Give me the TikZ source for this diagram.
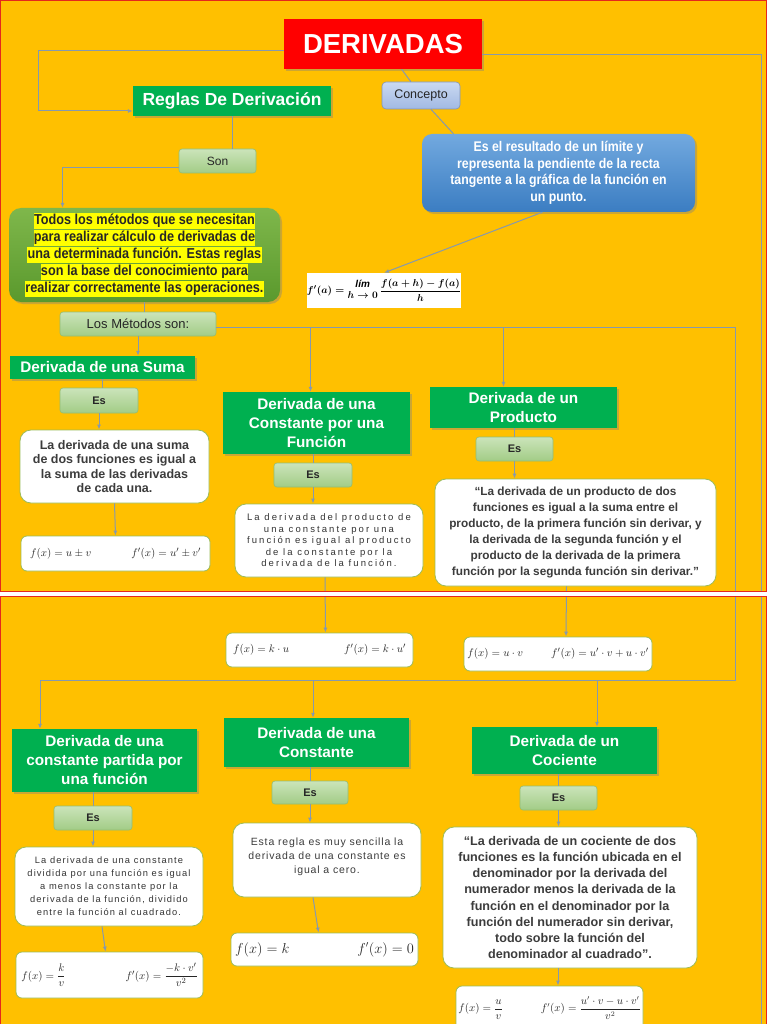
\documentclass[tikz,border=0pt]{standalone}
\usepackage{amsmath}
\usepackage{fontspec}
\setmainfont{Liberation Sans}
\newfontfamily\narrowfont[FakeStretch=0.88]{Liberation Sans}
\usetikzlibrary{arrows.meta,shadows}

\definecolor{bgO}{HTML}{FFC000}
\definecolor{frameR}{HTML}{E4281C}
\definecolor{titleR}{HTML}{FF0000}
\definecolor{headG}{HTML}{00B050}
\definecolor{esTop}{HTML}{CBE4BA}
\definecolor{esBot}{HTML}{A2CC86}
\definecolor{esLine}{HTML}{93BE74}
\definecolor{txtLine}{HTML}{9BBB59}
\definecolor{txtGray}{HTML}{3C3C3C}
\definecolor{lineC}{HTML}{8699AE}
\definecolor{todoTop}{HTML}{7FB74B}
\definecolor{todoBot}{HTML}{5A992D}
\definecolor{blueTop}{HTML}{72A9DF}
\definecolor{blueBot}{HTML}{3B7DC2}
\definecolor{conTop}{HTML}{CAD9F2}
\definecolor{conBot}{HTML}{A1B9E2}
\definecolor{hiY}{HTML}{FFFF00}

\setlength{\fboxsep}{0.4pt}
\newcommand{\hili}[1]{\colorbox{hiY}{\strut #1}}

\tikzset{
  conn/.style={draw=lineC, line width=1pt},
  frame/.style={draw=frameR, line width=1.2pt},
  shade/.style={drop shadow={shadow xshift=2pt, shadow yshift=-2pt, opacity=0.4}},
  titlebox/.style={fill=titleR, text=white, shade, inner sep=0pt,
    font=\bfseries\fontsize{27.5}{29}\selectfont},
  head/.style={fill=headG, text=white, shade, align=center, inner sep=0pt,
    font=\bfseries\fontsize{15.3}{19}\selectfont},
  esbox/.style={rounded corners=3pt, top color=esTop, bottom color=esBot, draw=esLine,
    line width=0.6pt, text=black!85, inner sep=0pt, font=\bfseries\fontsize{11}{13}\selectfont},
  conbox/.style={rounded corners=4pt, top color=conTop, bottom color=conBot, draw=conBot!80!black,
    line width=0.6pt, text=black!85, inner sep=0pt, font=\fontsize{12.5}{14}\selectfont},
  todobox/.style={rounded corners=12pt, top color=todoTop, bottom color=todoBot, shade,
    align=center, inner sep=0pt, text=black!85,
    font=\narrowfont\bfseries\fontsize{14.4}{15.2}\selectfont},
  bluebox/.style={rounded corners=10pt, top color=blueTop, bottom color=blueBot, shade,
    align=center, inner sep=0pt, text=white,
    font=\narrowfont\bfseries\fontsize{14}{16.5}\selectfont},
  txtbox/.style={rounded corners=11pt, fill=white, draw=txtLine, line width=0.8pt,
    align=center, text=txtGray, inner sep=0pt},
  fbox/.style={rounded corners=6pt, fill=white, draw=txtLine, line width=0.8pt,
    inner sep=0pt, text=black!85, font=\fontsize{11}{13}\selectfont},
}

\begin{document}
\begin{tikzpicture}[x=1pt, y=-1pt, >={Latex[length=5pt,width=4pt]}]
\useasboundingbox (0,0) rectangle (768,1024);
\clip (0,0) rectangle (768,1024);

% the two pages
\fill[white] (0,0) rectangle (768,1024);
\fill[bgO] (0,0) rectangle (767,592);
\fill[bgO] (0,596.5) rectangle (767,1030);

% top part
\node[titlebox, minimum width=198pt, minimum height=50pt] (deriv) at (383,44) {DERIVADAS};
\node[head, minimum width=198pt, minimum height=30pt, font=\bfseries\fontsize{17.5}{20}\selectfont] (reglas) at (232,101) {Reglas De Derivación};
\node[conbox, minimum width=78pt, minimum height=27pt] (concepto) at (421,95.5) {Concepto};
\node[esbox, minimum width=77pt, minimum height=24pt, font=\fontsize{12}{14}\selectfont] (son) at (217.5,161) {Son};
\node[todobox, minimum width=271pt, minimum height=94pt] (todos) at (144.5,255)
  {\hili{Todos los métodos que se necesitan}\\\hili{para realizar cálculo de derivadas de}\\\hili{una determinada función. Estas reglas}\\\hili{son la base del conocimiento para}\\\hili{realizar correctamente las operaciones.}};
\node[bluebox, minimum width=273pt, minimum height=78pt] (resultado) at (558.5,173)
  {Es el resultado de un límite y\\representa la pendiente de la recta\\tangente a la gráfica de la función en\\un punto.};
\node[fill=white, minimum width=152pt, minimum height=35pt, inner sep=0pt, font=\fontsize{10}{11}\selectfont\boldmath] (limite) at (384,290.5)
  {$\displaystyle f'(a)=\begin{array}{@{}c@{}}\mbox{\bfseries\itshape lím}\\ h\to 0\end{array}\,\frac{f(a+h)-f(a)}{h}$};
\node[esbox, minimum width=156pt, minimum height=24pt, font=\fontsize{13}{15}\selectfont] (metodos) at (138,324) {Los Métodos son:};

% derivada de una suma
\node[head, minimum width=185pt, minimum height=23pt] (suma) at (102.5,367.5) {Derivada de una Suma};
\node[esbox, minimum width=78pt, minimum height=25pt] (es1) at (99,400.5) {Es};
\node[txtbox, minimum width=189pt, minimum height=73pt, font=\bfseries\fontsize{12.5}{14.5}\selectfont] (sumatxt) at (114.5,466.5)
  {La derivada de una suma\\de dos funciones es igual a\\la suma de las derivadas\\de cada una.};
\node[fbox, minimum width=189pt, minimum height=35pt] (sumaf) at (115.5,553.5) {$f(x)=u\pm v$\hspace{40pt}$f'(x)=u'\pm v'$};

% constante por una funcion
\node[head, minimum width=187pt, minimum height=62pt] (cfun) at (316.5,423) {Derivada de una\\Constante por una\\Función};
\node[esbox, minimum width=78pt, minimum height=24pt] (es2) at (313,475) {Es};
\node[txtbox, minimum width=188pt, minimum height=73pt, text=black!80, font=\fontsize{9.5}{11.5}\selectfont\addfontfeature{LetterSpace=22}] (cfuntxt) at (329,540.5)
  {La derivada del producto de\\una constante por una\\función es igual al producto\\de la constante por la\\derivada de la función.};
\node[fbox, minimum width=187pt, minimum height=34pt] (cfunf) at (319.5,650) {$f(x)=k\cdot u$\hspace{55pt}$f'(x)=k\cdot u'$};

% producto
\node[head, minimum width=187pt, minimum height=41pt] (prod) at (523.5,407.5) {Derivada de un\\Producto};
\node[esbox, minimum width=77pt, minimum height=24pt] (es3) at (514.5,449) {Es};
\node[txtbox, minimum width=281pt, minimum height=107pt, font=\bfseries\fontsize{11.8}{16}\selectfont] (prodtxt) at (575.5,532.5)
  {“La derivada de un producto de dos\\funciones es igual a la suma entre el\\producto, de la primera función sin derivar, y\\la derivada de la segunda función y el\\producto de la derivada de la primera\\función por la segunda función sin derivar.”};
\node[fbox, minimum width=188pt, minimum height=34pt, font=\fontsize{11}{13}\selectfont] (prodf) at (558,654) {$f(x)=u\cdot v$\hspace{28pt}$f'(x)=u'\cdot v+u\cdot v'$};

% constante partida por una funcion
\node[head, minimum width=185pt, minimum height=63pt] (partida) at (104.5,760.5) {Derivada de una\\constante partida por\\una función};
\node[esbox, minimum width=78pt, minimum height=24pt] (es4) at (93,818) {Es};
\node[txtbox, minimum width=188pt, minimum height=79pt, text=black!80, font=\fontsize{9.3}{13}\selectfont\addfontfeature{LetterSpace=12}] (partidatxt) at (109,886.5)
  {La derivada de una constante\\dividida por una función es igual\\a menos la constante por la\\derivada de la función, dividido\\entre la función al cuadrado.};
\node[fbox, minimum width=187pt, minimum height=46pt] (partidaf) at (109.5,975) {$f(x)=\dfrac{k}{v}$\hspace{60pt}$f'(x)=\dfrac{-k\cdot v'}{v^2}$};

% constante
\node[head, minimum width=185pt, minimum height=49pt] (cte) at (316.5,742.5) {Derivada de una\\Constante};
\node[esbox, minimum width=76pt, minimum height=23pt] (es5) at (310,792.5) {Es};
\node[txtbox, minimum width=188pt, minimum height=74pt, font=\fontsize{10.5}{14}\selectfont\addfontfeature{LetterSpace=8}] (ctetxt) at (327,860)
  {Esta regla es muy sencilla la\\derivada de una constante es\\igual a cero.\\[-6pt]\mbox{}};
\node[fbox, minimum width=187pt, minimum height=33pt, font=\fontsize{13.5}{16}\selectfont] (ctef) at (324.5,949.5) {$f(x)=k$\hspace{68pt}$f'(x)=0$};

% cociente
\node[head, minimum width=185pt, minimum height=47pt] (coc) at (564.5,750.5) {Derivada de un\\Cociente};
\node[esbox, minimum width=77pt, minimum height=24pt] (es6) at (558.5,798) {Es};
\node[txtbox, minimum width=254pt, minimum height=141pt, font=\bfseries\fontsize{12.6}{16.2}\selectfont] (coctxt) at (570,897.5)
  {“La derivada de un cociente de dos\\funciones es la función ubicada en el\\denominador por la derivada del\\numerador menos la derivada de la\\función en el denominador por la\\función del numerador sin derivar,\\todo sobre la función del\\denominador al cuadrado”.};
\node[fbox, minimum width=187pt, minimum height=44pt, font=\fontsize{10.5}{12}\selectfont] (cocf) at (549.5,1008) {$f(x)=\dfrac{u}{v}$\hspace{38pt}$f'(x)=\dfrac{u'\cdot v-u\cdot v'}{v^2}$};

% connectors
\coordinate (lk) at (38,111);
\coordinate (rbot) at (761,1030);
\coordinate (busR) at (735,680);
\coordinate (busL) at (40,680);
\coordinate (cteX) at (313,680);
\coordinate (cocX) at (597,680);

\draw[conn,->] ([yshift=-7pt]deriv.west) -| (lk) -- ([yshift=-10pt]reglas.west);
\draw[conn] ([yshift=-11pt]deriv.east) -| (rbot);
\draw[conn] (deriv) -- (concepto);
\draw[conn] ([xshift=10pt]concepto.south) -- ([xshift=-105pt]resultado.north);
\draw[conn,->] ([xshift=-16pt]resultado.south) -- (limite.north);
\draw[conn] (reglas.south) -- (reglas.south |- son.north);
\draw[conn,->] ([yshift=-7pt]son.west) -| ([xshift=-82pt]todos.north);
\draw[conn] (todos.south) -- (todos.south |- metodos.north);
\draw[conn,->] (metodos.south) -- (metodos.south |- suma.north);
\draw[conn,->] ([yshift=-3pt]metodos.east) -| ([xshift=-6pt]cfun.north);
\draw[conn,->] ([yshift=-3pt]metodos.east) -| ([xshift=-20pt]prod.north);
\draw[conn] ([yshift=-3pt]metodos.east) -| (busR) -- (busL);
\draw[conn,->] (busL) -- (busL |- partida.north);
\draw[conn,->] (cteX) -- (cteX |- cte.north);
\draw[conn,->] (cocX) -- (cocX |- coc.north);

\draw[conn] (suma.south) -- (suma.south |- es1.north);
\draw[conn,->] (es1.south) -- (es1.south |- sumatxt.north);
\draw[conn,->] (sumatxt.south) -- (sumaf.north);
\draw[conn] (es2.north |- cfun.south) -- (es2.north);
\draw[conn,->] (es2.south) -- (es2.south |- cfuntxt.north);
\draw[conn,->] ([xshift=-4pt]cfuntxt.south) -- ([xshift=6pt]cfunf.north);
\draw[conn] (es3.north |- prod.south) -- (es3.north);
\draw[conn,->] (es3.south) -- (es3.south |- prodtxt.north);
\draw[conn,->] ([xshift=-9pt]prodtxt.south) -- ([xshift=8pt]prodf.north);
\draw[conn] (es4.north |- partida.south) -- (es4.north);
\draw[conn,->] (es4.south) -- (es4.south |- partidatxt.north);
\draw[conn,->] ([xshift=-7pt]partidatxt.south) -- ([xshift=-4pt]partidaf.north);
\draw[conn] (es5.north |- cte.south) -- (es5.north);
\draw[conn,->] (es5.south) -- (es5.south |- ctetxt.north);
\draw[conn,->] ([xshift=-14pt]ctetxt.south) -- ([xshift=-6pt]ctef.north);
\draw[conn] (es6.north |- coc.south) -- (es6.north);
\draw[conn,->] (es6.south) -- (es6.south |- coctxt.north);
\draw[conn,->] ([xshift=-12pt]coctxt.south) -- ([xshift=8.5pt]cocf.north);

% gap between the pages
\fill[white] (0,592) rectangle (768,596.5);
\draw[frame] (0.6,0.6) rectangle (766.4,591.8);
\draw[frame] (0.6,596.8) rectangle (766.4,1030);
\end{tikzpicture}
\end{document}
